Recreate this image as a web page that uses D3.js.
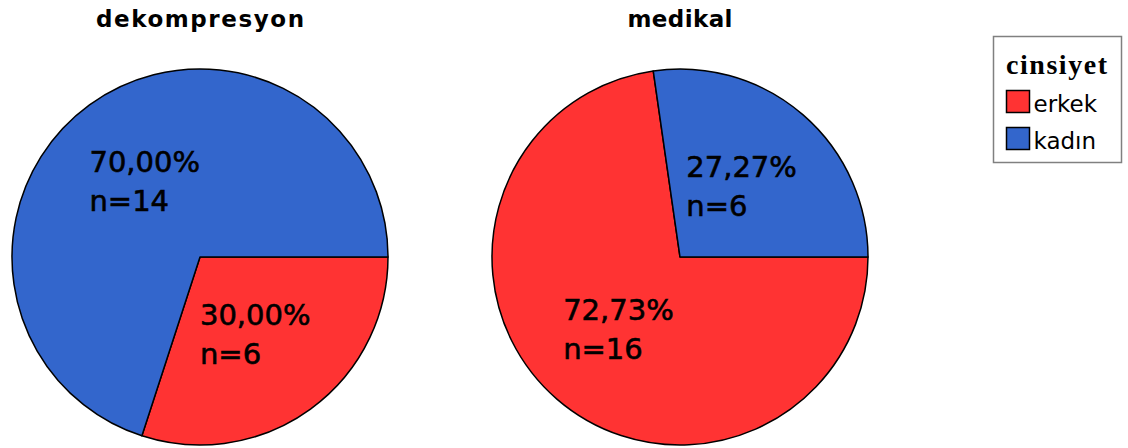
<!DOCTYPE html>
<html>
<head>
<meta charset="utf-8">
<script src="https://cdn.jsdelivr.net/npm/d3@7"></script>
<style>
  html, body { margin: 0; padding: 0; background: #fff; }
  svg { display: block; }
</style>
</head>
<body>
<svg id="chart" width="1128" height="448"></svg>
<script>
// Patient counts by sex for each treatment group
const groups = ["dekompresyon", "medikal"];
const categories = ["erkek", "kadın"];
const counts = {
  dekompresyon: [6, 14],
  medikal: [16, 6]
};
const percentLabels = {
  dekompresyon: ["30,00%", "70,00%"],
  medikal: ["72,73%", "27,27%"]
};
const legendTitle = "cinsiyet";
const colors = ["#ff3333", "#3366cc"];

const svg = d3.select("#chart");

const radius = 188;
const cx = d3.scaleOrdinal().domain(groups).range([200, 680]);
const cy = 257;
const color = d3.scaleOrdinal().domain(categories).range(colors);

const pie = d3.pie()
  .sort(null)
  .value(d => d.value)
  .startAngle(Math.PI / 2)
  .endAngle(Math.PI / 2 + 2 * Math.PI);

const arc = d3.arc().innerRadius(0).outerRadius(radius);
const labelArc = d3.arc().innerRadius(0).outerRadius(188); // centroid at r = 94

groups.forEach(g => {
  const data = categories.map((c, i) => ({
    cat: c, value: counts[g][i], pct: percentLabels[g][i]
  }));
  const gEl = svg.append("g").attr("transform", `translate(${cx(g)},${cy})`);

  gEl.selectAll("path.slice")
    .data(pie(data))
    .join("path")
    .attr("class", "slice")
    .attr("d", arc)
    .attr("fill", d => color(d.data.cat))
    .attr("stroke", "#000")
    .attr("stroke-width", 1.5)
    .attr("stroke-linejoin", "round");

  // Percentage and count labels, left-aligned block centred on the slice centroid
  pie(data).forEach(d => {
    const [lx, ly] = labelArc.centroid(d);
    const t = gEl.append("text")
      .attr("font-family", "'DejaVu Sans', Verdana, sans-serif")
      .attr("font-size", 29)
      .attr("fill", "#000")
      .attr("stroke", "#000")
      .attr("stroke-width", 0.6);
    t.append("tspan").attr("x", 0).attr("y", ly - 8.5).text(d.data.pct);
    t.append("tspan").attr("x", 0).attr("y", ly + 30.5).text("n=" + d.data.value);
    const w = t.node().getBBox().width;
    t.attr("transform", `translate(${lx - w / 2},0)`);
  });

  // Group title
  svg.append("text")
    .attr("x", cx(g))
    .attr("y", 27)
    .attr("text-anchor", "middle")
    .attr("font-family", "'DejaVu Sans', Verdana, sans-serif")
    .attr("font-weight", "bold")
    .attr("font-size", 23)
    .attr("textLength", g === "dekompresyon" ? 208 : 105)
    .attr("lengthAdjust", "spacing")
    .attr("fill", "#000")
    .text(g);
});

// Legend
const legend = svg.append("g");
legend.append("rect")
  .attr("x", 993.5).attr("y", 36.5)
  .attr("width", 128).attr("height", 126)
  .attr("fill", "#fff")
  .attr("stroke", "#808080")
  .attr("stroke-width", 1.5);

legend.append("text")
  .attr("x", 1006).attr("y", 74)
  .attr("font-family", "'Liberation Serif', 'Times New Roman', serif")
  .attr("font-weight", "bold")
  .attr("font-size", 28)
  .attr("textLength", 101)
  .attr("lengthAdjust", "spacing")
  .attr("fill", "#000")
  .text(legendTitle);

const items = legend.selectAll("g.item")
  .data(categories)
  .join("g")
  .attr("class", "item")
  .attr("transform", (d, i) => `translate(1006.5,${90.5 + i * 37})`);

items.append("rect")
  .attr("width", 23).attr("height", 22)
  .attr("fill", d => color(d))
  .attr("stroke", "#000")
  .attr("stroke-width", 1.5);

items.append("text")
  .attr("x", 27).attr("y", 21)
  .attr("font-family", "'DejaVu Sans', Verdana, sans-serif")
  .attr("font-size", 23)
  .attr("fill", "#000")
  .text(d => d);
</script>
</body>
</html>
